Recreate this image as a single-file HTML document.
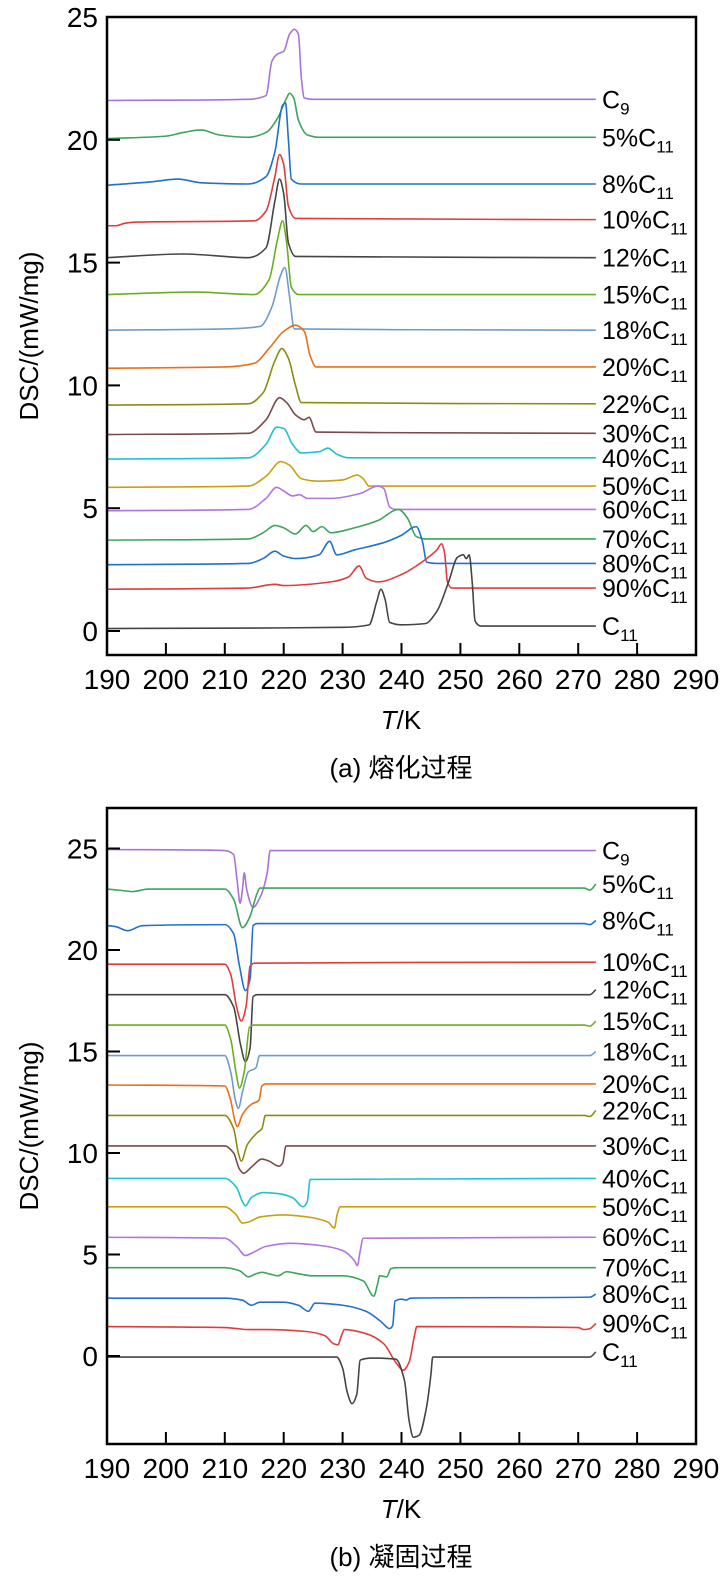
<!DOCTYPE html>
<html><head><meta charset="utf-8">
<style>
html,body{margin:0;padding:0;background:#fff;}
svg{display:block;font-family:"Liberation Sans","Noto Sans CJK SC",sans-serif;}
</style></head>
<body>
<svg id="fig" width="723" height="1577" viewBox="0 0 723 1577" xmlns="http://www.w3.org/2000/svg"></svg>
<script>
// ---------- data ----------
const seriesNames = ["C9","5%C11","8%C11","10%C11","12%C11","15%C11","18%C11","20%C11","22%C11","30%C11","40%C11","50%C11","60%C11","70%C11","80%C11","90%C11","C11"];
const seriesColors = ["#a873d8","#3da35d","#2070cc","#e03c3c","#454545","#6aae22","#6f9dc8","#e8701a","#8c8c14","#7a4a48","#22c2cc","#c9a012","#b274e2","#3da35d","#2070cc","#e03c3c","#454545"];
const xTicks = [190,200,210,220,230,240,250,260,270,280,290];
const yTicksA = [0,5,10,15,20,25];
const yTicksB = [0,5,10,15,20,25];

// (a) melting: [T, DSC] keypoints
const meltC9 = [[190,21.6],[214,21.65],[217,21.8],[218,23.2],[219,23.5],[220,23.6],[221,24.3],[221.8,24.5],[222.5,24.3],[223,22.5],[223.5,21.7],[225,21.65],[273,21.65]];
const melt5 = [[190,20.05],[200,20.15],[203,20.3],[206,20.4],[209,20.2],[214,20.1],[217,20.3],[219,20.9],[220.5,21.7],[221,21.9],[221.7,21.7],[222.5,20.8],[224,20.2],[226,20.1],[273,20.1]];
const melt8 = [[190,18.15],[198,18.3],[202,18.4],[206,18.25],[214,18.2],[217,18.5],[218.5,19.5],[219.8,21.4],[220.3,21.5],[220.8,20],[221.3,18.4],[223,18.2],[273,18.2]];
const melt10 = [[190,16.5],[191.5,16.5],[193,16.6],[195,16.65],[215,16.7],[217,17.1],[218.5,18.5],[219.3,19.4],[220,19],[220.8,17.3],[222,16.8],[273,16.75]];
const melt12 = [[190,15.2],[203,15.35],[214,15.2],[217,15.6],[218.5,17.5],[219.3,18.4],[220,17.8],[220.8,15.8],[222,15.25],[273,15.2]];
const melt15 = [[190,13.7],[205,13.8],[215,13.7],[217.5,14.3],[219,16],[219.8,16.7],[220.5,15.8],[221.3,14],[222.5,13.7],[273,13.7]];
const melt18 = [[190,12.25],[210,12.3],[216,12.4],[218,13.2],[219.5,14.5],[220.2,14.8],[221,13.6],[221.8,12.3],[273,12.25]];
const melt20 = [[190,10.7],[210,10.75],[215,10.9],[217.5,11.5],[220,12.2],[222,12.45],[223.5,12.2],[224.5,11.2],[225.5,10.75],[273,10.75]];
const melt22 = [[190,9.2],[214,9.25],[216.5,9.7],[218.5,11],[219.7,11.5],[220.8,11.1],[222,10],[223,9.3],[273,9.25]];
const melt30 = [[190,8.0],[214,8.05],[217,8.6],[219.3,9.5],[220.5,9.3],[222,8.8],[223.5,8.6],[224.3,8.7],[225.5,8.1],[273,8.05]];
const melt40 = [[190,7.0],[214,7.05],[217,7.6],[218.8,8.3],[220,8.25],[221.5,7.6],[223,7.25],[226,7.3],[227.5,7.45],[229,7.2],[231,7.05],[273,7.05]];
const melt50 = [[190,5.85],[214,5.9],[217,6.3],[219.5,6.9],[221,6.75],[223,6.2],[226,6.1],[230,6.15],[232.5,6.35],[233.5,6.2],[234.5,5.9],[273,5.9]];
const melt60 = [[190,4.9],[214,4.95],[217,5.4],[218.8,5.85],[220,5.7],[221.5,5.5],[222.7,5.55],[224,5.4],[228,5.4],[233,5.6],[236,5.9],[237,5.8],[238,5.05],[239,4.95],[273,4.95]];
const melt70 = [[190,3.7],[214,3.75],[216.5,4.0],[218.5,4.3],[220,4.2],[222,3.95],[223.8,4.3],[225,4.05],[226.5,4.25],[228,4.0],[232,4.2],[236,4.5],[239.5,4.95],[241,4.6],[242.5,3.85],[244,3.75],[273,3.75]];
const melt80 = [[190,2.7],[214,2.75],[216.5,2.95],[218.5,3.25],[220,3.05],[222,2.95],[226,3.1],[227.8,3.65],[229,3.1],[232,3.3],[237,3.6],[240,3.9],[242.5,4.25],[243.5,3.7],[244.3,2.8],[246,2.75],[273,2.75]];
const melt90 = [[190,1.7],[214,1.75],[218.5,1.9],[220,1.85],[228,2.0],[231,2.2],[232.8,2.65],[234,2.15],[236,2.0],[240,2.3],[244,2.9],[246,3.3],[246.8,3.55],[247.3,3.2],[247.8,2.0],[248.5,1.75],[273,1.75]];
const meltC11 = [[190,0.1],[230,0.15],[234.5,0.25],[235.8,1.2],[236.5,1.7],[237.2,1.3],[238,0.35],[240,0.25],[244,0.3],[246,0.8],[248,2.0],[249.5,3.0],[250.5,3.1],[251,2.95],[251.5,3.1],[252,2.0],[252.5,0.4],[253.5,0.2],[273,0.2]];

// (b) solidification
const solC9 = [[190,24.95],[210,24.9],[211.5,24.7],[212.1,23.4],[212.6,22.3],[213.0,23.0],[213.3,23.8],[213.7,23.0],[214.8,22.1],[216,22.6],[217.2,23.8],[217.7,24.9],[273,24.9]];
const sol5 = [[190,23.0],[192,22.95],[194.4,22.88],[197,23.0],[210,23.0],[211.5,22.5],[213,21.1],[214.2,21.6],[215.5,22.8],[216,23.05],[271,23.05],[272,22.95],[273,23.25]];
const sol8 = [[190,21.2],[191.5,21.15],[193.5,20.95],[196,21.2],[210,21.25],[211.5,20.8],[212.5,19.2],[213.5,18.0],[214.3,18.6],[214.8,21.2],[215.5,21.3],[271,21.3],[272,21.25],[273,21.45]];
const sol10 = [[190,19.3],[210,19.3],[211,18.8],[212,17.2],[212.8,16.5],[213.6,17.2],[214.3,19.2],[215,19.35],[273,19.4]];
const sol12 = [[190,17.8],[210,17.8],[211.5,17.2],[212.7,15.3],[213.5,14.5],[214.3,15.2],[214.8,17.7],[215.5,17.8],[272,17.8],[273,18.05]];
const sol15 = [[190,16.3],[210,16.3],[211,15.6],[212,13.8],[212.5,13.2],[213.3,14.0],[214.2,16.2],[215,16.3],[271,16.3],[272,16.25],[273,16.5]];
const sol18 = [[190,14.8],[210,14.8],[211,14.0],[211.8,12.6],[212.3,12.2],[213,13.0],[214,14.0],[215.3,14.2],[215.9,14.8],[272,14.8],[273,15.0]];
const sol20 = [[190,13.35],[210,13.3],[211,12.6],[211.7,11.6],[212.1,11.3],[213,11.9],[214.5,12.4],[215.8,12.6],[216.3,13.3],[217,13.4],[273,13.4]];
const sol22 = [[190,11.85],[210,11.85],[211.5,11.2],[212.3,10.0],[212.8,9.6],[213.8,10.4],[215.5,11.0],[216.3,11.2],[216.9,11.85],[271,11.85],[272,11.8],[273,12.1]];
const sol30 = [[190,10.35],[210,10.35],[211.5,10.0],[212.5,9.2],[213.2,9.0],[214.5,9.3],[216.3,9.7],[217.5,9.6],[219.2,9.35],[219.8,9.5],[220.4,10.35],[273,10.35]];
const sol40 = [[190,8.75],[210,8.75],[212,8.3],[213,7.6],[213.5,7.4],[214.5,7.8],[216.5,8.05],[219,8.0],[221.5,7.8],[223.3,7.35],[224,7.6],[224.5,8.7],[273,8.75]];
const sol50 = [[190,7.35],[210,7.35],[211.8,7.0],[213,6.55],[214,6.6],[216,6.85],[220,6.95],[224,6.85],[227.5,6.6],[228.6,6.3],[229.1,7.0],[229.6,7.35],[273,7.35]];
const sol60 = [[190,5.85],[210,5.8],[212,5.4],[213.5,4.95],[214.8,5.1],[217,5.4],[221,5.55],[226,5.45],[230,5.2],[232,4.7],[232.5,4.45],[233,5.2],[233.5,5.8],[273,5.85]];
const sol70 = [[190,4.35],[210,4.35],[212.5,4.2],[214,3.9],[215.3,4.05],[216.3,4.12],[217.5,4.05],[219,3.95],[220.5,4.15],[222.5,4.05],[225,3.95],[230,3.95],[233.5,3.7],[235.3,2.95],[235.9,3.5],[236.3,3.95],[237.5,3.9],[238.2,4.3],[239,4.35],[273,4.35]];
const sol80 = [[190,2.85],[210,2.85],[213,2.75],[214.5,2.5],[216,2.65],[220,2.65],[222.5,2.5],[224.2,2.2],[225.3,2.6],[230,2.5],[234,2.2],[236.5,1.7],[238,1.35],[238.5,1.5],[238.9,2.7],[240,2.8],[240.8,2.75],[241.5,2.85],[272,2.9],[273,3.05]];
const sol90 = [[190,1.45],[210,1.4],[212,1.35],[214,1.3],[217,1.3],[224,1.2],[227,1.0],[228.5,0.6],[229.2,0.55],[229.8,1.0],[230.3,1.3],[234,1.1],[237,0.6],[239,-0.3],[240.3,-0.7],[241.3,-0.3],[242.2,1.0],[242.6,1.45],[270,1.4],[271,1.3],[272,1.35],[273,1.6]];
const solC11 = [[190,-0.05],[229,-0.05],[230,-0.6],[230.8,-1.8],[231.6,-2.35],[232.4,-1.9],[233,-0.2],[235,-0.1],[239,-0.15],[240.5,-1.2],[241.3,-3.2],[242,-4.0],[243,-3.9],[244.2,-2.6],[245,-0.9],[245.3,-0.05],[272,-0.05],[273,0.2]];

const meltSeries = [meltC9,melt5,melt8,melt10,melt12,melt15,melt18,melt20,melt22,melt30,melt40,melt50,melt60,melt70,melt80,melt90,meltC11];
const solSeries = [solC9,sol5,sol8,sol10,sol12,sol15,sol18,sol20,sol22,sol30,sol40,sol50,sol60,sol70,sol80,sol90,solC11];

// ---------- drawing ----------
const NS = "http://www.w3.org/2000/svg";
const svg = document.getElementById("fig");
function mk(tag, attrs, parent){
  const e = document.createElementNS(NS, tag);
  for (const k in attrs) e.setAttribute(k, attrs[k]);
  (parent||svg).appendChild(e);
  return e;
}
// monotone cubic (Fritsch-Carlson) in x: no loops / overshoot
function smoothPath(pts){
  const n = pts.length;
  const dx = [], m = [];
  for (let i=0;i<n-1;i++){ dx.push(pts[i+1][0]-pts[i][0]); m.push((pts[i+1][1]-pts[i][1])/dx[i]); }
  const t = new Array(n);
  t[0] = m[0]; t[n-1] = m[n-2];
  for (let i=1;i<n-1;i++){
    if (m[i-1]*m[i] <= 0) t[i] = 0;
    else { const w1 = 2*dx[i]+dx[i-1], w2 = dx[i]+2*dx[i-1]; t[i] = (w1+w2)/(w1/m[i-1]+w2/m[i]); }
  }
  let d = "M" + pts[0][0].toFixed(2) + "," + pts[0][1].toFixed(2);
  for (let i=0;i<n-1;i++){
    const h = dx[i]/3;
    d += " C" + (pts[i][0]+h).toFixed(2)+","+(pts[i][1]+t[i]*h).toFixed(2)+" "+(pts[i+1][0]-h).toFixed(2)+","+(pts[i+1][1]-t[i+1]*h).toFixed(2)+" "+pts[i+1][0].toFixed(2)+","+pts[i+1][1].toFixed(2);
  }
  return d;
}

function drawPanel(cfg){
  const L = 107, R = 696;
  const xs = v => L + (v - 190) / 100 * (R - L);
  const ys = v => cfg.y0 - v * cfg.pxPerUnit;
  const g = mk("g", {});
  
  

  for (let i=0;i<cfg.series.length;i++){
    const pts = cfg.series[i].map(p => [xs(p[0]), ys(p[1])]);
    const path = mk("path", {d: smoothPath(pts), fill:"none", stroke: seriesColors[i], "stroke-width":"1.6", "stroke-linejoin":"round"}, g);
    
    
    const last = cfg.series[i][cfg.series[i].length-1];
    const ly = ys(last[1]) + 9;
    const txt = mk("text", {x: 602, y: ly, "font-size":"25", fill:"#000"}, g);
    
    
    const name = seriesNames[i];
    const base = name.replace(/\d+$/, "");
    const sub = name.match(/\d+$/)[0];
    const t1 = mk("tspan", {}, txt); t1.textContent = base;
    const t2 = mk("tspan", {dy:"6", "font-size":"17"}, txt); t2.textContent = sub;
  }

  const frame = mk("rect", {x:L, y:cfg.top, width:R-L, height:cfg.bottom-cfg.top, fill:"none", stroke:"#000", "stroke-width":"2.5"}, g);
  
  

  for (const v of xTicks){
    const x = xs(v);
    if (v>190 && v<290){
      const tk = mk("line", {x1:x, x2:x, y1:cfg.bottom, y2:cfg.bottom-12, stroke:"#000", "stroke-width":"2"}, g);
      
      
    }
    const lb = mk("text", {x:x, y:cfg.bottom+34, "font-size":"28", "text-anchor":"middle", fill:"#000"}, g);
    
    
    lb.textContent = v;
  }
  for (const v of cfg.yTicks){
    const y = ys(v);
    const tk = mk("line", {x1:L, x2:L+13, y1:y, y2:y, stroke:"#000", "stroke-width":"2"}, g);
    
    
    const lb = mk("text", {x:L-9, y:y+10, "font-size":"28", "text-anchor":"end", fill:"#000"}, g);
    
    
    lb.textContent = v;
  }
  const yt = mk("text", {x:0, y:0, "font-size":"26", "text-anchor":"middle", fill:"#000", transform:"translate(38," + cfg.ytitleY + ") rotate(-90)"}, g);
  
  
  yt.textContent = "DSC/(mW/mg)";
  const xt = mk("text", {x:401, y:cfg.bottom+74, "font-size":"26", "text-anchor":"middle", fill:"#000"}, g);
  
  
  const it = mk("tspan", {"font-style":"italic"}, xt); it.textContent = "T";
  const rest = mk("tspan", {}, xt); rest.textContent = "/K";
  const cap = mk("text", {x:401, y:cfg.bottom+122, "font-size":"26", "text-anchor":"middle", fill:"#000"}, g);
  
  
  cap.textContent = cfg.caption;
}

drawPanel({name:"melting-chart", series: meltSeries, y0:631, pxPerUnit:24.56, top:17, bottom:655, yTicks:yTicksA, ytitleY:336, caption:"(a) 熔化过程"});
drawPanel({name:"solidification-chart", series: solSeries, y0:1356, pxPerUnit:20.3, top:808, bottom:1444, yTicks:yTicksB, ytitleY:1126, caption:"(b) 凝固过程"});
</script>
</body></html>
